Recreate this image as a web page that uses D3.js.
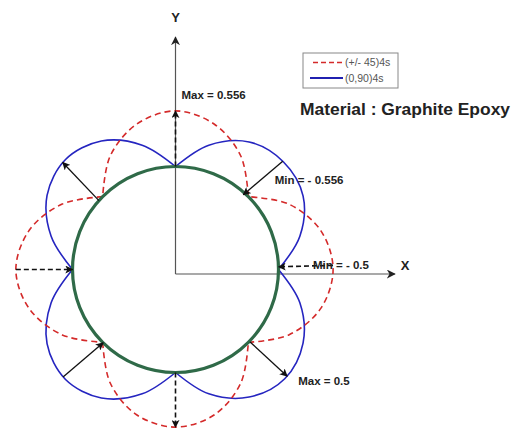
<!DOCTYPE html>
<html>
<head>
<meta charset="utf-8">
<script src="https://cdn.jsdelivr.net/npm/d3@7"></script>
<style>
  body { margin: 0; background: #fff; }
</style>
</head>
<body>
<div id="chart"></div>
<script>
// polar data, angle in degrees (0 = +X, counter-clockwise), radius relative to base circle
const angles = [0, 15, 30, 45, 60, 75, 90, 105, 120, 135, 150, 165,
                180, 195, 210, 225, 240, 255, 270, 285, 300, 315, 330, 345];
const red45 = [1.53, 1.46, 1.27, 1.00, 1.27, 1.46, 1.54, 1.46, 1.27, 1.00, 1.27, 1.47,
               1.55, 1.47, 1.27, 1.00, 1.27, 1.46, 1.53, 1.46, 1.27, 1.00, 1.27, 1.46];
const blue090 = [1.00, 1.25, 1.43, 1.48, 1.43, 1.25, 1.00, 1.25, 1.44, 1.51, 1.44, 1.25,
                 1.00, 1.25, 1.44, 1.51, 1.44, 1.25, 1.00, 1.25, 1.43, 1.50, 1.43, 1.25];
const baseR = 1.0;

// arrows: [angle from, radius from, angle to, radius to, dashed]
const arrows = [
  [90, 1.00, 90, 1.54, true],
  [270, 1.00, 270, 1.53, true],
  [180, 1.55, 180, 1.00, true],
  [1.5, 1.53, 1.5, 1.00, true],
  [138, 1.00, 136.5, 1.51, false],
  [45.3, 1.48, 47.8, 0.98, false],
  [-44.2, 1.01, -43.7, 1.50, false],
  [223.7, 1.51, 225.4, 1.00, false]
];
const arrowLabels = ["Max = 0.556", "", "", "Min = - 0.5", "", "Min = - 0.556", "Max = 0.5", ""];

const legendLabels = ["(+/- 45)4s", "(0,90)4s"];
const title = "Material : Graphite Epoxy";

const W = 519, H = 432;
const cx = 175.5, cy = 269.5;

const svg = d3.select("#chart").append("svg")
    .attr("width", W)
    .attr("height", H)
    .style("font-family", "Liberation Sans, Arial, sans-serif");

const r = d3.scaleLinear().domain([0, 1]).range([0, 103]);
const px = (a, v) => cx + r(v) * Math.cos(a * Math.PI / 180);
const py = (a, v) => cy - r(v) * Math.sin(a * Math.PI / 180);

// markers
const defs = svg.append("defs");
defs.append("marker")
    .attr("id", "head")
    .attr("viewBox", "0 0 10 10")
    .attr("refX", 9).attr("refY", 5)
    .attr("markerWidth", 8).attr("markerHeight", 8)
    .attr("markerUnits", "userSpaceOnUse")
    .attr("orient", "auto")
    .append("path").attr("d", "M0,0L10,5L0,10L2.5,5Z").attr("fill", "#111");
defs.append("marker")
    .attr("id", "axhead")
    .attr("viewBox", "0 0 10 10")
    .attr("refX", 9).attr("refY", 5)
    .attr("markerWidth", 9).attr("markerHeight", 9)
    .attr("markerUnits", "userSpaceOnUse")
    .attr("orient", "auto")
    .append("path").attr("d", "M0,0L10,5L0,10L3,5Z").attr("fill", "#222");

// axes
const ox = cx, oy = cy + 4.5;
svg.append("line")
    .attr("x1", ox).attr("y1", oy).attr("x2", ox + r(2.13)).attr("y2", oy)
    .attr("stroke", "#555").attr("stroke-width", 1.2)
    .attr("marker-end", "url(#axhead)");
svg.append("line")
    .attr("x1", ox).attr("y1", oy).attr("x2", ox).attr("y2", oy - r(2.30))
    .attr("stroke", "#555").attr("stroke-width", 1.2)
    .attr("marker-end", "url(#axhead)");
svg.append("text").attr("x", ox + r(2.23)).attr("y", oy - 4)
    .attr("text-anchor", "middle").attr("font-size", 13).attr("font-weight", "bold")
    .attr("fill", "#222").text("X");
svg.append("text").attr("x", ox).attr("y", oy - r(2.45))
    .attr("text-anchor", "middle").attr("font-size", 13).attr("font-weight", "bold")
    .attr("fill", "#222").text("Y");

// split a closed polar series into lobes between cusps
function lobes(vals) {
  const n = vals.length;
  const cusps = [];
  vals.forEach((v, i) => { if (v <= baseR) cusps.push(i); });
  const segs = [];
  cusps.forEach((c, k) => {
    const next = cusps[(k + 1) % cusps.length];
    const end = next > c ? next : next + n;
    const seg = [];
    for (let i = c; i <= end; i++) {
      seg.push({ a: angles[i % n] + (i >= n ? 360 : 0), v: vals[i % n] });
    }
    segs.push(seg);
  });
  return segs;
}

const line = d3.line()
    .x(d => px(d.a, d.v))
    .y(d => py(d.a, d.v))
    .curve(d3.curveCatmullRom.alpha(0.5));

svg.selectAll(".blue")
    .data(lobes(blue090))
    .join("path")
    .attr("d", line)
    .attr("fill", "none")
    .attr("stroke", "#2525c0")
    .attr("stroke-width", 1.6);

svg.selectAll(".red")
    .data(lobes(red45))
    .join("path")
    .attr("d", line)
    .attr("fill", "none")
    .attr("stroke", "#d42a2a")
    .attr("stroke-width", 1.6)
    .attr("stroke-dasharray", "6,4");

// base circle
svg.append("circle")
    .attr("cx", cx).attr("cy", cy).attr("r", r(baseR))
    .attr("fill", "none")
    .attr("stroke", "#2f6a48")
    .attr("stroke-width", 3.2);

// arrows
svg.selectAll(".arrow")
    .data(arrows)
    .join("line")
    .attr("x1", d => px(d[0], d[1])).attr("y1", d => py(d[0], d[1]))
    .attr("x2", d => px(d[2], d[3])).attr("y2", d => py(d[2], d[3]))
    .attr("stroke", "#111")
    .attr("stroke-width", d => d[4] ? 1.6 : 1.3)
    .attr("stroke-dasharray", d => d[4] ? "5,3" : null)
    .attr("marker-end", "url(#head)");

// arrow labels: [which end of the arrow, dx, dy]
const labelPos = [["end", 6, -12], null, null, ["start", -20, 4], null,
                  ["start", -8, 23], ["end", 11, 9], null];
arrows.forEach((d, i) => {
  if (!arrowLabels[i]) return;
  const p = labelPos[i];
  const a = p[0] === "end" ? [d[2], d[3]] : [d[0], d[1]];
  svg.append("text")
      .attr("x", px(a[0], a[1]) + p[1]).attr("y", py(a[0], a[1]) + p[2])
      .attr("font-size", 11.5).attr("font-weight", "bold")
      .attr("fill", "#222")
      .text(arrowLabels[i]);
});

// legend
const lg = svg.append("g").attr("transform", "translate(303,53)");
lg.append("rect").attr("width", 95).attr("height", 35)
    .attr("fill", "#fff").attr("stroke", "#888").attr("stroke-width", 1);
lg.append("line").attr("x1", 10).attr("x2", 40).attr("y1", 9.5).attr("y2", 9.5)
    .attr("stroke", "#d42a2a").attr("stroke-width", 1.4).attr("stroke-dasharray", "5,3");
lg.append("line").attr("x1", 7).attr("x2", 40).attr("y1", 25).attr("y2", 25)
    .attr("stroke", "#2020b0").attr("stroke-width", 1.8);
lg.selectAll("text")
    .data(legendLabels)
    .join("text")
    .attr("x", 42)
    .attr("y", (d, i) => 13 + i * 15.5)
    .attr("font-size", 10.5)
    .attr("fill", "#555")
    .text(d => d);

svg.append("text")
    .attr("x", 300).attr("y", 115)
    .attr("font-size", 16).attr("font-weight", "bold")
    .attr("fill", "#222")
    .attr("textLength", 210).attr("lengthAdjust", "spacingAndGlyphs")
    .text(title);
</script>
</body>
</html>
